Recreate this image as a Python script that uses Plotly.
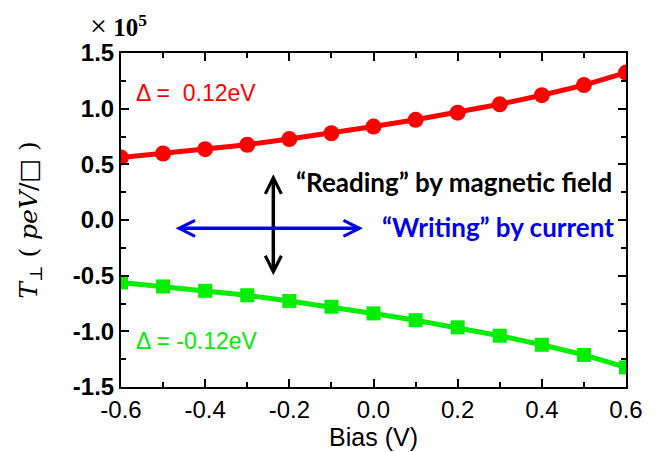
import plotly.graph_objects as go

bias = [-0.6, -0.5, -0.4, -0.3, -0.2, -0.1, 0.0, 0.1, 0.2, 0.3, 0.4, 0.5, 0.6]
t_pos = [0.561, 0.597, 0.636, 0.676, 0.727, 0.779, 0.839, 0.900, 0.964, 1.039, 1.121, 1.212, 1.324]
t_neg = [-0.561, -0.597, -0.636, -0.676, -0.727, -0.779, -0.839, -0.900, -0.964, -1.039, -1.121, -1.212, -1.324]

x_ticks = [-0.6, -0.4, -0.2, 0.0, 0.2, 0.4, 0.6]
x_labels = ["-0.6", "-0.4", "-0.2", "0.0", "0.2", "0.4", "0.6"]
y_ticks = [-1.5, -1.0, -0.5, 0.0, 0.5, 1.0, 1.5]
y_labels = ["-1.5", "-1.0", "-0.5", "0.0", "0.5", "1.0", "1.5"]

RED = "#ff0000"
GREEN = "#00ee00"
BLUE = "#0000f0"

fig = go.Figure()
fig.add_trace(go.Scatter(x=bias, y=t_pos, mode="lines+markers",
                         line=dict(color=RED, width=5),
                         marker=dict(symbol="circle", size=16, color=RED),
                         showlegend=False))
fig.add_trace(go.Scatter(x=bias, y=t_neg, mode="lines+markers",
                         line=dict(color=GREEN, width=5),
                         marker=dict(symbol="square", size=14, color=GREEN),
                         showlegend=False))

axis_common = dict(showline=True, linecolor="black", linewidth=2, mirror="ticks",
                   ticks="inside", ticklen=8, tickwidth=2, tickcolor="black",
                   showgrid=False, zeroline=False)

fig.update_xaxes(range=[-0.6, 0.6], tickvals=x_ticks, ticktext=x_labels,
                 tickfont=dict(family="Liberation Sans, Arial", size=24, color="black"),
                 title=dict(text="Bias (V)", font=dict(family="Liberation Sans, Arial", size=25, color="black"), standoff=0),
                 minor=dict(tickvals=[-0.5, -0.3, -0.1, 0.1, 0.3, 0.5], ticks="inside", ticklen=5, tickwidth=1.5, tickcolor="black"),
                 **axis_common)
fig.update_yaxes(range=[-1.5, 1.5], tickvals=y_ticks, ticktext=["<b>%s</b>" % s for s in y_labels],
                 tickfont=dict(family="Liberation Sans, Arial", size=24, color="black"),
                 title=dict(text="<i>T</i><sub>⊥</sub> ( <i>peV</i>/□ )", font=dict(family="DejaVu Serif", size=25, color="black"), standoff=28),
                 minor=dict(tickvals=[-1.25, -0.75, -0.25, 0.25, 0.75, 1.25], ticks="inside", ticklen=5, tickwidth=1.5, tickcolor="black"),
                 **axis_common)

# arrows
fig.add_annotation(x=-0.238, y=0.41, ax=-0.238, ay=-0.51, xref="x", yref="y", axref="x", ayref="y",
                   showarrow=True, arrowhead=5, arrowside="end+start", arrowwidth=3.5, arrowsize=0.9, arrowcolor="black", text="")
fig.add_annotation(x=-0.025, y=-0.075, ax=-0.474, ay=-0.075, xref="x", yref="y", axref="x", ayref="y",
                   showarrow=True, arrowhead=5, arrowside="end+start", arrowwidth=3.5, arrowsize=0.9, arrowcolor=BLUE, text="")

fig.add_annotation(x=-0.19, y=0.344, xref="x", yref="y", xanchor="left", yanchor="middle", showarrow=False,
                   text="<b>“Reading” by magnetic field</b>", font=dict(family="Lato", size=26, color="black"))
fig.add_annotation(x=0.016, y=-0.06, xref="x", yref="y", xanchor="left", yanchor="middle", showarrow=False,
                   text="<b>“Writing” by current</b>", font=dict(family="Lato", size=26, color=BLUE))
fig.add_annotation(x=-0.568, y=1.145, xref="x", yref="y", xanchor="left", yanchor="middle", showarrow=False,
                   text="Δ =  0.12eV", font=dict(family="Liberation Sans, Arial", size=23, color=RED))
fig.add_annotation(x=-0.568, y=-1.088, xref="x", yref="y", xanchor="left", yanchor="middle", showarrow=False,
                   text="Δ = -0.12eV", font=dict(family="Liberation Sans, Arial", size=23, color=GREEN))
fig.add_annotation(x=0.0, y=1.0, xref="paper", yref="paper", xanchor="center", yanchor="middle", yshift=28, xshift=-3,
                   showarrow=False, text="<span style='font-size:30px'>×</span> <b>10<sup>5</sup></b>",
                   font=dict(family="Liberation Serif, Times New Roman", size=25, color="black"))

fig.update_layout(width=655, height=452, margin=dict(l=121, r=18, t=53, b=65),
                  paper_bgcolor="white", plot_bgcolor="white")

fig.write_html("out.html", config={"displayModeBar": False},
               post_script="document.documentElement.style.overflow='hidden';"
                           "document.body.style.margin='0';document.body.style.overflow='hidden';")
